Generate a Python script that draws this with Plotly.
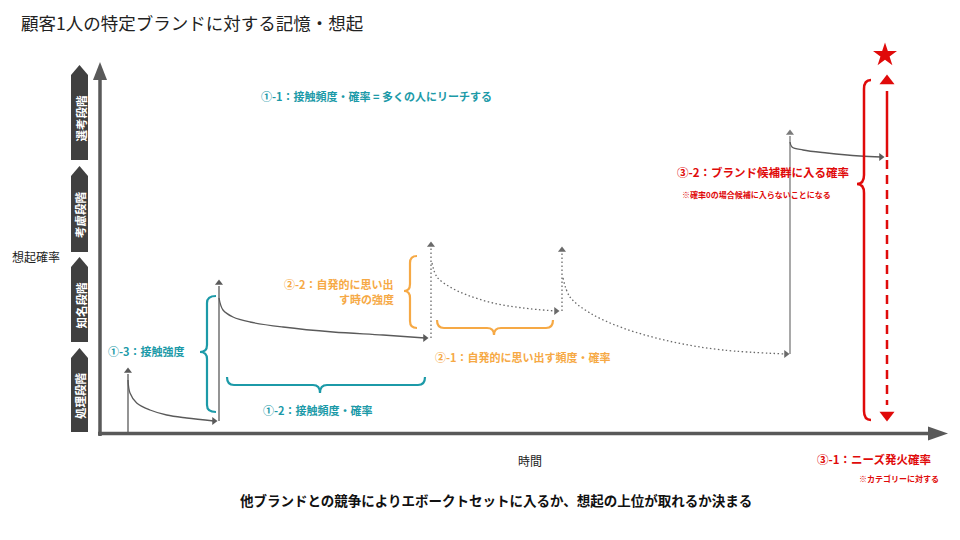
import plotly.graph_objects as go

# ---------------- data (time units from origin, recall level from baseline) ----------------
# contact / recall events: time, level before, peak level
event_time = [28, 119, 331, 462, 690]
event_before = [0, 12, 95, 122, 79]
event_peak = [62, 150, 188, 183, 300]
event_kind = ["contact", "contact", "recall", "recall", "contact"]

# decay curves after each event
decay_t = [
    [28, 30, 36.7, 50, 66.7, 86.7, 114],
    [119, 123, 133, 150, 183, 233, 283, 325],
    [332, 337, 350, 367, 393, 423, 456],
    [463, 470, 490, 523, 573, 623, 686],
    [690, 692, 703, 727, 760, 781],
]
decay_r = [
    [53, 40, 30, 23, 18, 15, 12],
    [135, 123, 116, 111, 106, 101, 98, 95],
    [170, 156, 146, 138, 130, 125, 122],
    [155, 136, 120, 105, 91, 83, 79],
    [291, 286, 283, 280, 277, 276],
]
decay_kind = ["contact", "contact", "recall", "recall", "contact"]

# need ignition (red) line
need_time = 787
need_level = 276
need_top = 352
need_bottom = 18

stage_labels = ["処理段階", "知名段階", "考慮段階", "選考段階"]

TEAL = "#1C9AA8"
ORANGE = "#F6A945"
RED = "#E00A0A"
GRAY = "#595959"
FONT = "Noto Sans CJK JP"

# pixel helpers (origin of the chart axes in page pixels)
OX, OY = 100, 433
PAGE_OFF = 8  # page body margin


def X(px):
    return px - OX


def Y(py):
    return OY - py


fig = go.Figure()

# ---------------- curves ----------------
for t, b, p, k in zip(event_time, event_before, event_peak, event_kind):
    dash = "1.5px,2.5px" if k == "recall" else "solid"
    col = "#6a6a6a" if k == "recall" else ("#7a7a7a" if p > 250 else "#5a5a5a")
    fig.add_trace(go.Scatter(x=[t, t], y=[b, p - 3], mode="lines",
                             line=dict(color=col, width=1.3, dash=dash), hoverinfo="skip"))
    fig.add_trace(go.Scatter(x=[t], y=[p], mode="markers",
                             marker=dict(symbol="triangle-up", size=7, color=col), hoverinfo="skip"))

for tt, rr, k in zip(decay_t, decay_r, decay_kind):
    dash = "1.5px,2.5px" if k == "recall" else "solid"
    col = "#6a6a6a" if k == "recall" else "#5a5a5a"
    fig.add_trace(go.Scatter(x=tt, y=rr, mode="lines", line_shape="spline",
                             line=dict(color=col, width=1.3, dash=dash), hoverinfo="skip"))
    fig.add_trace(go.Scatter(x=[tt[-1]], y=[rr[-1]], mode="markers",
                             marker=dict(symbol="triangle-right", size=7, color=col), hoverinfo="skip"))

# red need line
fig.add_trace(go.Scatter(x=[need_time, need_time], y=[need_level, need_top - 10], mode="lines",
                         line=dict(color=RED, width=2.5), hoverinfo="skip"))
fig.add_trace(go.Scatter(x=[need_time, need_time], y=[need_level - 3, need_bottom + 10], mode="lines",
                         line=dict(color=RED, width=2.5, dash="9px,6px"), hoverinfo="skip"))
fig.add_trace(go.Scatter(x=[need_time, need_time], y=[need_top, need_bottom], mode="markers",
                         marker=dict(symbol=["triangle-up", "triangle-down"], size=13, color=RED),
                         hoverinfo="skip"))
fig.add_trace(go.Scatter(x=[need_time - 2], y=[Y(55)], mode="markers",
                         marker=dict(symbol="star", size=18, color=RED), hoverinfo="skip"))

shapes = []

# ---------------- axes ----------------
shapes.append(dict(type="line", x0=X(100), y0=Y(436), x1=X(100), y1=Y(78),
                   line=dict(color=GRAY, width=3.5)))
shapes.append(dict(type="path", path=f"M {X(93)},{Y(80)} L {X(100)},{Y(62)} L {X(107)},{Y(80)} Z",
                   fillcolor=GRAY, line=dict(color=GRAY, width=0)))
shapes.append(dict(type="line", x0=X(98), y0=Y(433.5), x1=X(930), y1=Y(433.5),
                   line=dict(color=GRAY, width=3.5)))
shapes.append(dict(type="path", path=f"M {X(928)},{Y(426.5)} L {X(948)},{Y(433.5)} L {X(928)},{Y(440.5)} Z",
                   fillcolor=GRAY, line=dict(color=GRAY, width=0)))

# ---------------- stage pentagons ----------------
stage_boxes = [(348, 358, 432), (257, 267, 342), (166, 176, 252), (65, 75, 160)]
for (tip, sh, bot) in stage_boxes:
    path = (f"M {X(71)},{Y(bot)} L {X(71)},{Y(sh)} L {X(79.5)},{Y(tip)} "
            f"L {X(88)},{Y(sh)} L {X(88)},{Y(bot)} Z")
    shapes.append(dict(type="path", path=path, fillcolor="#404040", line=dict(width=0)))


# ---------------- braces ----------------
def vbrace(xt, xb, xe, y0, ym, y1, r=7):
    pts = [
        f"M {X(xe)},{Y(y0)}", f"Q {X(xb)},{Y(y0)} {X(xb)},{Y(y0 + r)}",
        f"L {X(xb)},{Y(ym - r)}", f"Q {X(xb)},{Y(ym)} {X(xt)},{Y(ym)}",
        f"Q {X(xb)},{Y(ym)} {X(xb)},{Y(ym + r)}",
        f"L {X(xb)},{Y(y1 - r)}", f"Q {X(xb)},{Y(y1)} {X(xe)},{Y(y1)}",
    ]
    return " ".join(pts)


def hbrace(x0, xm, x1, ye, yb, yt, r=7):
    pts = [
        f"M {X(x0)},{Y(ye)}", f"Q {X(x0)},{Y(yb)} {X(x0 + r)},{Y(yb)}",
        f"L {X(xm - r)},{Y(yb)}", f"Q {X(xm)},{Y(yb)} {X(xm)},{Y(yt)}",
        f"Q {X(xm)},{Y(yb)} {X(xm + r)},{Y(yb)}",
        f"L {X(x1 - r)},{Y(yb)}", f"Q {X(x1)},{Y(yb)} {X(x1)},{Y(ye)}",
    ]
    return " ".join(pts)


shapes.append(dict(type="path", path=vbrace(200, 207, 216, 296, 352, 412),
                   line=dict(color=TEAL, width=2.2)))
shapes.append(dict(type="path", path=hbrace(227, 320, 425, 377, 385, 393),
                   line=dict(color=TEAL, width=2.2)))
shapes.append(dict(type="path", path=vbrace(404, 410, 417, 256, 291, 328),
                   line=dict(color=ORANGE, width=2.2)))
shapes.append(dict(type="path", path=hbrace(437, 494, 553, 320, 328, 335),
                   line=dict(color=ORANGE, width=2.2)))
shapes.append(dict(type="path", path=vbrace(857, 864, 871, 80, 184, 420, r=9),
                   line=dict(color=RED, width=2.5)))

# ---------------- texts ----------------
ann = []


def txt(text, px, py, size, color, xanchor="center", bold=False, angle=0):
    t = f"<b>{text}</b>" if bold else text
    ann.append(dict(text=t, x=X(px), y=Y(py), xref="x", yref="y", showarrow=False,
                    xanchor=xanchor, yanchor="middle", textangle=angle,
                    font=dict(family=FONT, size=size, color=color)))


txt("顧客1人の特定ブランドに対する記憶・想起", 19, 22, 17.5, "#222222", xanchor="left")
txt("想起確率", 36, 256, 12, "#222222")
txt("時間", 530, 460, 12, "#222222")
for lab, (tip, sh, bot) in zip(stage_labels, stage_boxes):
    txt(lab, 80, (sh + bot) / 2 + 1, 11.5, "white", bold=True, angle=-90)

txt("①-1：接触頻度・確率 = 多くの人にリーチする", 259, 96, 11, TEAL, xanchor="left", bold=True)
txt("①-3：接触強度", 106, 351, 11, TEAL, xanchor="left", bold=True)
txt("①-2：接触頻度・確率", 318, 410, 11, TEAL, bold=True)
txt("②-2：自発的に思い出", 396, 284, 11, ORANGE, xanchor="right", bold=True)
txt("す時の強度", 396, 299, 11, ORANGE, xanchor="right", bold=True)
txt("②-1：自発的に思い出す頻度・確率", 433, 357, 11, ORANGE, xanchor="left", bold=True)
txt("③-2：ブランド候補群に入る確率", 675, 172, 11.5, RED, xanchor="left", bold=True)
txt("※確率0の場合候補に入らないことになる", 680, 194, 8, RED, xanchor="left", bold=True)
txt("③-1：ニーズ発火確率", 815, 459, 11.5, RED, xanchor="left", bold=True)
txt("※カテゴリーに対する", 857, 478, 8, RED, xanchor="left", bold=True)
txt("他ブランドとの競争によりエボークトセットに入るか、想起の上位が取れるか決まる",
    496, 500, 13.5, "#111111", bold=True)

# the page places the plot 8px in from the top-left corner; compensate so that
# figure coordinates line up with the 960x540 window
fig.update_layout(
    width=960 - PAGE_OFF, height=540 - PAGE_OFF,
    margin=dict(l=0, r=0, t=0, b=0),
    paper_bgcolor="white", plot_bgcolor="white",
    showlegend=False,
    xaxis=dict(range=[X(PAGE_OFF), X(960)], visible=False, fixedrange=True),
    yaxis=dict(range=[Y(540), Y(PAGE_OFF)], visible=False, fixedrange=True),
    shapes=shapes, annotations=ann,
)

fig.write_html("out.html")
